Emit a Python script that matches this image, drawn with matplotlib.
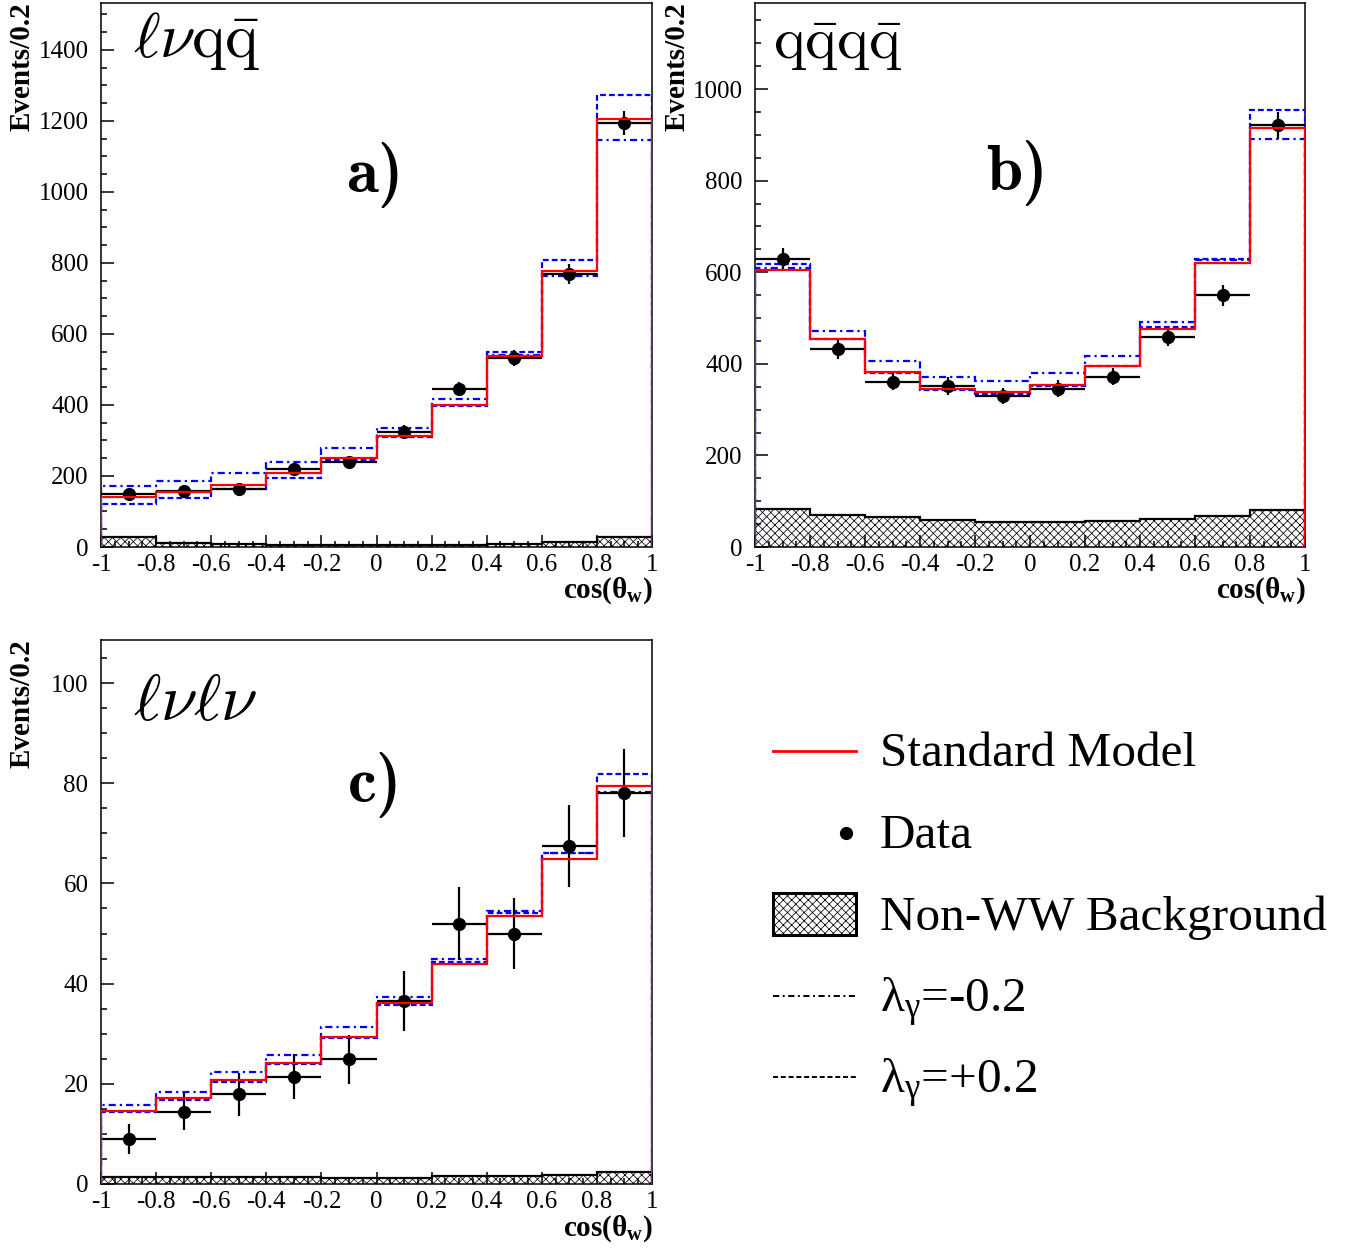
import os
import matplotlib
matplotlib.use("Agg")
import matplotlib.pyplot as plt
from matplotlib.ticker import MultipleLocator, FixedLocator, FixedFormatter
from matplotlib.font_manager import FontProperties

# ---------------- data ----------------
edges = [-1.0, -0.8, -0.6, -0.4, -0.2, 0.0, 0.2, 0.4, 0.6, 0.8, 1.0]
centers = [-0.9, -0.7, -0.5, -0.3, -0.1, 0.1, 0.3, 0.5, 0.7, 0.9]
xtick_vals = [-1.0, -0.8, -0.6, -0.4, -0.2, 0.0, 0.2, 0.4, 0.6, 0.8, 1.0]
xtick_labels = ["-1", "-0.8", "-0.6", "-0.4", "-0.2", "0", "0.2", "0.4", "0.6", "0.8", "1"]

# a) l nu q qbar
sm_a = [140, 155, 175, 207, 252, 312, 400, 537, 777, 1204]
lm_a = [171, 187, 207, 238, 278, 334, 416, 542, 763, 1145]
lp_a = [121, 137, 162, 195, 244, 310, 398, 550, 808, 1273]
bg_a = [27, 10, 8, 7, 7, 7, 7, 8, 13, 29]
data_a = [150, 159, 163, 219, 238, 325, 445, 533, 769, 1194]
err_a = [12, 13, 13, 15, 15, 18, 21, 23, 28, 35]

# b) q qbar q qbar
sm_b = [606, 455, 382, 346, 338, 354, 395, 475, 621, 916]
lm_b = [610, 472, 406, 372, 363, 379, 417, 492, 627, 891]
lp_b = [619, 455, 379, 343, 334, 352, 395, 480, 630, 954]
bg_b = [84, 70, 65, 60, 55, 55, 57, 62, 68, 81]
data_b = [629, 432, 361, 352, 330, 346, 372, 459, 550, 921]
err_b = [25, 21, 19, 19, 18, 19, 19, 21, 23, 30]

# c) l nu l nu
sm_c = [14.6, 17.1, 20.8, 24.2, 29.4, 36.1, 43.9, 53.5, 64.9, 79.4]
lm_c = [15.8, 18.4, 22.3, 25.7, 31.3, 37.4, 45.0, 54.4, 66.1, 78.2]
lp_c = [14.4, 16.8, 20.4, 23.9, 29.2, 35.7, 44.4, 54.2, 66.0, 81.8]
bg_c = [1.3, 1.3, 1.3, 1.3, 1.2, 1.2, 1.6, 1.6, 1.8, 2.3]
data_c = [8.9, 14.4, 17.9, 21.4, 24.9, 36.5, 52.0, 50.0, 67.5, 78.0]
err_c = [3.0, 3.7, 4.3, 4.5, 4.9, 6.0, 7.2, 7.1, 8.2, 8.8]

legend_labels = ["Standard Model", "Data", "Non-WW Background",
                 r"$\mathrm{λ}_{\mathrm{γ}}$=-0.2", r"$\mathrm{λ}_{\mathrm{γ}}$=+0.2"]

# ---------------- style ----------------
plt.rcParams["font.family"] = ["Liberation Serif", "DejaVu Serif"]
plt.rcParams["mathtext.fontset"] = "custom"
plt.rcParams["mathtext.rm"] = "Liberation Serif"
plt.rcParams["mathtext.it"] = "Liberation Serif:italic"
plt.rcParams["mathtext.bf"] = "Liberation Serif:bold"
plt.rcParams["axes.unicode_minus"] = False
plt.rcParams["hatch.linewidth"] = 0.55

cmb_path = os.path.join(matplotlib.get_data_path(), "fonts", "ttf", "cmb10.ttf")
if os.path.exists(cmb_path):
    fp_letter = FontProperties(fname=cmb_path, size=47)
else:
    fp_letter = FontProperties(family="DejaVu Serif", weight="bold", size=42)

W, H = 1360, 1254
fig = plt.figure(figsize=(W / 100, H / 100), dpi=100)

DASHED = (0, (2.6, 1.4))
DASHDOT = (0, (3.2, 1.8, 1.0, 1.8))
HATCH = "xxxx"


def px_axes(l, t, r, b, **kw):
    return fig.add_axes([l / W, 1 - b / H, (r - l) / W, (b - t) / H], **kw)


def panel(ax, sm, lm, lp, bg, data, err, ymax, ymaj, ymin, ylabels_max):
    ax.stairs(bg, edges, baseline=0, fill=True, facecolor="white",
              edgecolor="black", hatch=HATCH, linewidth=1.6, zorder=1)
    ax.stairs(lm, edges, baseline=0, color="#0000ff", linestyle=DASHDOT,
              linewidth=1.6, zorder=3)
    ax.stairs(lp, edges, baseline=0, color="#0000ff", linestyle=DASHED,
              linewidth=1.6, zorder=3)
    ax.errorbar(centers, data, xerr=0.1, yerr=err, fmt="o", color="black",
                markersize=8.5, elinewidth=1.6, capsize=0, zorder=4)
    ax.stairs(sm, edges, baseline=0, color="#ff0000", linewidth=1.6, zorder=5)
    ax.set_xlim(-1, 1)
    ax.set_ylim(0, ymax)
    ax.xaxis.set_major_locator(FixedLocator(xtick_vals))
    ax.xaxis.set_major_formatter(FixedFormatter(xtick_labels))
    ax.xaxis.set_minor_locator(MultipleLocator(0.05))
    ax.yaxis.set_major_locator(MultipleLocator(ymaj))
    ax.yaxis.set_minor_locator(MultipleLocator(ymin))
    ax.tick_params(which="both", direction="in", top=False, right=False,
                   labelsize=18, width=1.1)
    ax.tick_params(which="major", length=9)
    ax.tick_params(which="minor", length=4.5)
    ax.tick_params(axis="y", pad=9)
    ax.tick_params(axis="x", pad=5)
    for s in ax.spines.values():
        s.set_linewidth(1.1)
    ax.yaxis.set_major_formatter(
        matplotlib.ticker.FuncFormatter(lambda v, p: "%d" % v if v <= ylabels_max + 1e-9 else ""))


ax_a = px_axes(101, 3, 652, 547)
panel(ax_a, sm_a, lm_a, lp_a, bg_a, data_a, err_a, 1532, 200, 50, 1400)
ax_b = px_axes(755, 3, 1305, 547)
panel(ax_b, sm_b, lm_b, lp_b, bg_b, data_b, err_b, 1188, 200, 50, 1000)
ax_c = px_axes(101, 640, 652, 1184)
panel(ax_c, sm_c, lm_c, lp_c, bg_c, data_c, err_c, 108.6, 20, 5, 100)

# channel labels
ax_a.text(0.058, 0.901, r"$\ell\nu\mathrm{q}\bar{\mathrm{q}}$", transform=ax_a.transAxes,
          fontsize=46, math_fontfamily="cm", ha="left", va="baseline")
ax_b.text(0.033, 0.897, r"$\mathrm{q}\bar{\mathrm{q}}\mathrm{q}\bar{\mathrm{q}}$", transform=ax_b.transAxes,
          fontsize=43.5, math_fontfamily="cm", ha="left", va="baseline")
ax_c.text(0.058, 0.853, r"$\ell\nu\ell\nu$", transform=ax_c.transAxes,
          fontsize=47.5, math_fontfamily="cm", ha="left", va="baseline")

# panel letters
ax_a.text(0.497, 0.653, "a)", transform=ax_a.transAxes,
          fontproperties=fp_letter, ha="center", va="baseline")
ax_b.text(0.476, 0.656, "b)", transform=ax_b.transAxes,
          fontproperties=fp_letter, ha="center", va="baseline")
ax_c.text(0.497, 0.702, "c)", transform=ax_c.transAxes,
          fontproperties=fp_letter, ha="center", va="baseline")

# overlay in pixel coordinates for axis titles and legend
ov = fig.add_axes([0, 0, 1, 1], zorder=-1)
ov.set_xlim(0, W)
ov.set_ylim(H, 0)
ov.axis("off")

for (x, y) in [(22, 2), (677, 2), (22, 639)]:
    ov.text(x, y, "Events/0.2", rotation=90, ha="center", va="top",
            fontsize=21, fontweight="bold")
for (x, y) in [(653, 598), (1306, 598), (653, 1236)]:
    ov.text(x, y, r"cos(θ$_{\mathbf{w}}$)", ha="right", va="baseline",
            fontsize=21, fontweight="bold")

# legend
lx0, lx1, tx = 773, 856, 880
ov.plot([lx0, lx1], [751, 751], color="#ff0000", linewidth=2.0)
ov.plot([846], [833], "o", color="black", markersize=8.5)
ov.add_patch(matplotlib.patches.Rectangle((lx0, 893), lx1 - lx0, 42, facecolor="white",
                                          edgecolor="black", hatch=HATCH, linewidth=2.2))
ov.plot([lx0, lx1], [996, 996], color="black", linestyle=DASHDOT, linewidth=1.4)
ov.plot([lx0, lx1], [1077, 1077], color="black", linestyle=DASHED, linewidth=1.4)
for lab, yb in zip(legend_labels, [766, 848, 930, 1012, 1093]):
    ov.text(tx, yb, lab, fontsize=35.5, ha="left", va="baseline")

fig.savefig("out.png", dpi=100)
